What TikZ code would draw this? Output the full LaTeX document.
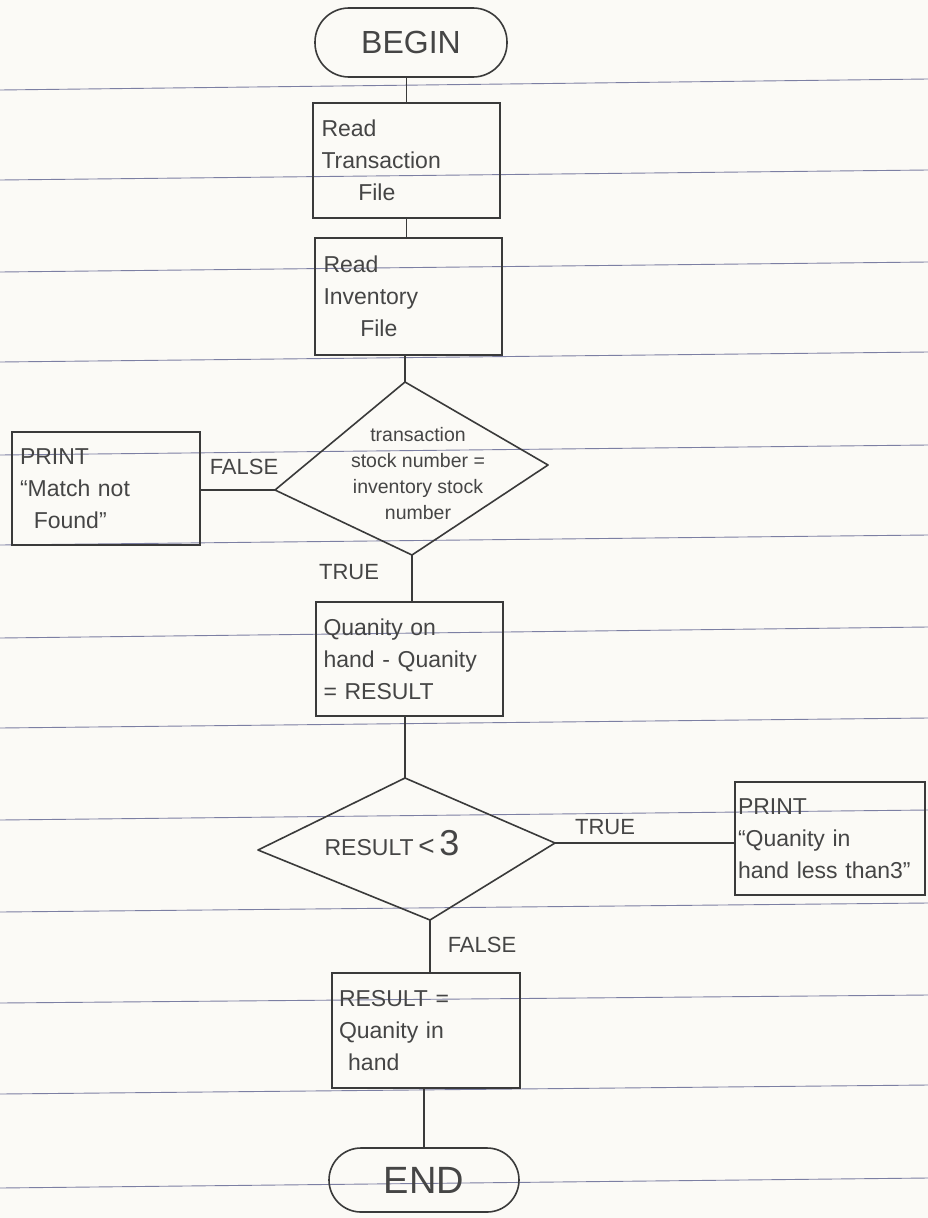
\documentclass[tikz,border=0pt]{standalone}
\usepackage{fontspec}
\setmainfont{Liberation Sans}
\definecolor{inkc}{HTML}{3A3A3A}
\definecolor{txtc}{HTML}{454545}
\definecolor{rulec}{HTML}{7C7FA3}
\definecolor{paper}{HTML}{FBFAF6}
\begin{document}
\begin{tikzpicture}[x=1pt,y=-1pt,
  ink/.style={draw=inkc, line width=1.6pt},
  box/.style={ink, rectangle, inner sep=0pt, text=txtc, align=left,
    font=\fontsize{23}{32}\selectfont},
  term/.style={ink, rectangle, inner sep=0pt, text=txtc},
  lbl/.style={text=txtc, font=\fontsize{22}{24}\selectfont},
  dtext/.style={text=txtc, align=center, font=\fontsize{19.5}{26}\selectfont},
  ruleline/.style={draw=rulec, line width=0.9pt}]
\useasboundingbox (0,0) rectangle (928,1218);
\fill[paper] (0,0) rectangle (928,1218);
% ruled paper lines
\foreach \yl/\yr in {90/79,180/170,272/262,362/352,455/445,545/535,638/627,728/718,820/810,912/903,1003/995,1094/1085,1188/1178}
  \draw[ruleline] (0,\yl) -- (928,\yr);

% terminals
\node[term, minimum width=192pt, minimum height=69pt, rounded corners=34pt,
  font=\fontsize{32}{34}\selectfont] (begin) at (411,42.5) {BEGIN};
\node[term, minimum width=190pt, minimum height=64pt, rounded corners=32pt,
  font=\fontsize{38}{40}\selectfont] (end) at (424,1180) {END};

% process boxes
\node[box, minimum width=187pt, minimum height=115pt, text width=170pt] (b1) at (406.5,160.5)
  {Read\\Transaction\\\hspace*{1.6em}File};
\node[box, minimum width=187pt, minimum height=117pt, text width=170pt] (b2) at (408.5,296.5)
  {Read\\Inventory\\\hspace*{1.6em}File};
\node[box, minimum width=188pt, minimum height=113pt, text width=172pt] (b3) at (106,488.5)
  {PRINT\\``Match not\\\hspace*{0.6em}Found''};
\node[box, minimum width=187pt, minimum height=114pt, text width=172pt] (b4) at (409.5,659)
  {Quanity on\\hand - Quanity\\= RESULT};
\node[box, minimum width=190pt, minimum height=113pt, text width=184pt] (b5) at (830,838.5)
  {PRINT\\``Quanity in\\hand less than3''\\[-12pt]};
\node[box, minimum width=188pt, minimum height=115pt, text width=174pt] (b6) at (426,1030.5)
  {RESULT =\\Quanity in\\\hspace*{0.4em}hand};

% decision 1
\coordinate (d1t) at (405,382);
\coordinate (d1r) at (548,465);
\coordinate (d1b) at (412,555);
\coordinate (d1l) at (275,490);
\draw[ink, line join=round] (d1t) -- (d1r) -- (d1b) -- (d1l) -- cycle;
\node[dtext] (d1) at (418,474)
  {transaction\\stock number =\\inventory stock\\number};

% decision 2
\coordinate (d2t) at (405,778);
\coordinate (d2r) at (555,843);
\coordinate (d2b) at (430,920);
\coordinate (d2l) at (258,850);
\draw[ink, line join=round] (d2t) -- (d2r) -- (d2b) -- (d2l) -- cycle;
\node[text=txtc, font=\fontsize{23}{26}\selectfont] (d2) at (392,843)
  {RESULT{\fontsize{28}{30}\selectfont\,<\,}{\fontsize{36}{38}\selectfont 3}};

% connectors
\draw[ink] (b1.north |- begin.south) -- (b1.north);
\draw[ink] (b1.south) -- (b1.south |- b2.north);
\draw[ink] (d1t |- b2.south) -- (d1t);
\draw[ink] (d1l) -- (b3.east |- d1l);
\draw[ink] (d1b) -- (d1b |- b4.north);
\draw[ink] (d2t |- b4.south) -- (d2t);
\draw[ink] (d2r) -- (b5.west |- d2r);
\draw[ink] (d2b) -- (d2b |- b6.north);
\draw[ink] (end.north |- b6.south) -- (end.north);

% labels
\node[lbl] (lf1) at (244,467) {FALSE};
\node[lbl] (lt1) at (349,572) {TRUE};
\node[lbl] (lt2) at (605,827) {TRUE};
\node[lbl] (lf2) at (482,945) {FALSE};
\end{tikzpicture}
\end{document}
